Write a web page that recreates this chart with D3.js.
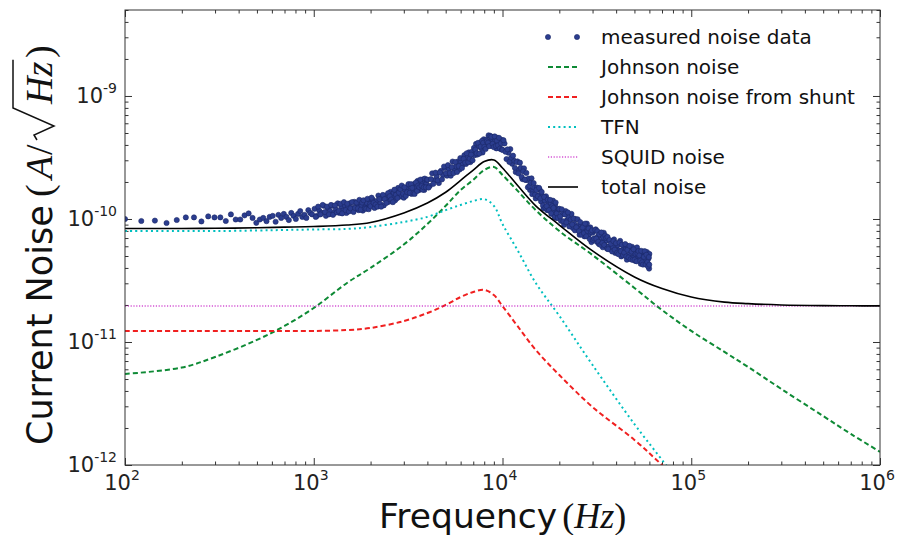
<!DOCTYPE html>
<html>
<head>
<meta charset="utf-8">
<script src="https://cdn.jsdelivr.net/npm/d3@7"></script>
<style>
  body { margin: 0; background: #fff; }
  svg { display: block; font-family: "DejaVu Sans", sans-serif; }
</style>
</head>
<body>
<div id="chart"></div>
<script>
// model curves, sampled on one frequency grid (Hz -> A/sqrt(Hz))
const freqGrid = [100, 200, 300, 500, 700, 1000, 1500, 2000, 3000, 4000, 5000, 6000, 7000, 8000, 9000,
  10000, 12000, 15000, 20000, 30000, 50000, 70000, 100000, 150000, 200000, 300000, 500000, 700000, 1000000];

const johnsonNoise = [5.50e-12, 6.20e-12, 7.55e-12, 1.04e-11, 1.35e-11, 1.89e-11, 3.02e-11, 4.00e-11, 6.20e-11,
  9.10e-11, 1.28e-10, 1.72e-10, 2.08e-10, 2.50e-10, 2.65e-10, 2.28e-10, 1.70e-10, 1.18e-10, 7.98e-11, 5.09e-11,
  2.75e-11, 1.82e-11, 1.23e-11, 8.30e-12, 6.27e-12, 4.15e-12, 2.50e-12, 1.79e-12, 1.28e-12];

const shuntNoise = [1.23e-11, 1.23e-11, 1.23e-11, 1.23e-11, 1.23e-11, 1.23e-11, 1.25e-11, 1.30e-11, 1.48e-11,
  1.72e-11, 2.00e-11, 2.32e-11, 2.55e-11, 2.65e-11, 2.41e-11, 1.96e-11, 1.35e-11, 8.61e-12, 5.39e-12, 2.96e-12,
  1.60e-12, 1.0e-12, 6.0e-13, null, null, null, null, null, null];

const tfnNoise = [7.98e-11, 7.98e-11, 7.98e-11, 8.06e-11, 8.14e-11, 8.22e-11, 8.30e-11, 8.61e-11, 9.46e-11,
  1.04e-10, 1.18e-10, 1.30e-10, 1.40e-10, 1.45e-10, 1.28e-10, 9.10e-11, 5.60e-11, 3.02e-11, 1.63e-11, 6.50e-12,
  2.15e-12, 1.10e-12, 5.4e-13, null, null, null, null, null, null];

const squidFreq = [100, 1000000];
const squidNoise = [1.96e-11, 1.96e-11];

const totalNoise = [8.37e-11, 8.37e-11, 8.40e-11, 8.48e-11, 8.58e-11, 8.69e-11, 8.93e-11, 9.37e-11, 1.12e-10,
  1.35e-10, 1.65e-10, 2.06e-10, 2.50e-10, 2.93e-10, 3.02e-10, 2.60e-10, 1.88e-10, 1.28e-10, 8.93e-11, 5.50e-11,
  3.38e-11, 2.72e-11, 2.32e-11, 2.11e-11, 2.05e-11, 2.00e-11, 1.975e-11, 1.97e-11, 1.965e-11];

// measured points [frequency, noise]
const measured = [
  [100,1.00e-10],[122,9.63e-11],[144,9.70e-11],[166,9.28e-11],[188,9.81e-11],[210,1.03e-10],[232,1.03e-10],
  [254,9.55e-11],[276,1.05e-10],[298,1.03e-10],[320,1.03e-10],[342,9.63e-11],[364,1.09e-10],[386,9.90e-11],
  [408,9.90e-11],[430,1.07e-10],[452,1.11e-10],[474,1.02e-10],[496,9.30e-11],[518,9.90e-11],[540,1.02e-10],
  [562,9.60e-11],[584,1.04e-10],[606,1.06e-10],[628,9.50e-11],[650,1.08e-10],[672,1.02e-10],[694,1.10e-10],
  [716,1.04e-10],[738,9.80e-11],[760,1.12e-10],[782,1.06e-10],[804,1.00e-10],[826,1.10e-10],[848,1.16e-10],
  [870,1.04e-10],[892,1.08e-10],[914,1.02e-10],[936,1.18e-10],[958,1.12e-10],[980,1.09e-10],
  [1010,1.21e-10],[1040,1.06e-10],[1070,1.17e-10],[1100,1.12e-10],[1130,1.28e-10],[1160,1.06e-10],[1190,1.22e-10],
  [1220,1.16e-10],[1250,1.28e-10],[1280,1.12e-10],[1310,1.20e-10],[1340,1.34e-10],[1370,1.12e-10],[1400,1.26e-10],
  [1430,1.17e-10],[1460,1.29e-10],[1490,1.12e-10],[1520,1.26e-10],[1550,1.34e-10],[1580,1.18e-10],[1610,1.23e-10],
  [1640,1.38e-10],[1670,1.21e-10],[1700,1.31e-10],[1730,1.18e-10],[1760,1.35e-10],[1790,1.28e-10],[1820,1.17e-10],
  [1850,1.39e-10],[1880,1.27e-10],[1910,1.35e-10],[1940,1.24e-10],[1970,1.44e-10],
  [1025,1.04e-10],[1055,1.26e-10],[1085,1.09e-10],[1115,1.30e-10],[1145,1.14e-10],[1175,1.26e-10],[1205,1.09e-10],
  [1235,1.30e-10],[1265,1.08e-10],[1295,1.29e-10],[1325,1.13e-10],[1355,1.16e-10],[1385,1.33e-10],[1415,1.11e-10],
  [1445,1.37e-10],[1475,1.18e-10],[1505,1.33e-10],[1535,1.15e-10],[1565,1.22e-10],[1595,1.37e-10],[1625,1.14e-10],
  [1655,1.23e-10],[1685,1.36e-10],[1715,1.22e-10],[1745,1.43e-10],[1775,1.19e-10],[1805,1.36e-10],[1835,1.42e-10],
  [1865,1.22e-10],[1895,1.21e-10],[1925,1.46e-10],[1955,1.20e-10],[1985,1.32e-10],
  [2000,1.27e-10],[2050,1.44e-10],[2100,1.23e-10],[2150,1.40e-10],[2200,1.55e-10],[2250,1.33e-10],[2300,1.48e-10],
  [2350,1.29e-10],[2400,1.54e-10],[2450,1.47e-10],[2500,1.38e-10],[2550,1.66e-10],[2600,1.50e-10],[2650,1.63e-10],
  [2700,1.42e-10],[2750,1.64e-10],[2800,1.79e-10],[2850,1.56e-10],[2900,1.52e-10],[2950,1.78e-10],[3000,1.49e-10],
  [3050,1.72e-10],[3100,1.80e-10],[3150,1.62e-10],[3200,1.90e-10],[3250,1.71e-10],[3300,1.60e-10],[3350,1.84e-10],
  [3400,1.92e-10],[3450,1.73e-10],[3500,1.81e-10],[3550,2.04e-10],[3600,1.71e-10],[3650,1.97e-10],[3700,1.77e-10],
  [3750,1.93e-10],[3800,2.10e-10],[3850,1.72e-10],[3900,2.02e-10],[3950,1.93e-10],
  [2025,1.49e-10],[2075,1.35e-10],[2125,1.31e-10],[2175,1.26e-10],[2225,1.45e-10],[2275,1.26e-10],[2325,1.57e-10],
  [2375,1.45e-10],[2425,1.35e-10],[2475,1.62e-10],[2525,1.53e-10],[2575,1.44e-10],[2625,1.37e-10],[2675,1.73e-10],
  [2725,1.57e-10],[2775,1.48e-10],[2825,1.64e-10],[2875,1.75e-10],[2925,1.87e-10],[2975,1.60e-10],[3025,1.81e-10],
  [3075,1.54e-10],[3125,1.65e-10],[3175,1.92e-10],[3225,1.63e-10],[3275,1.92e-10],[3325,1.79e-10],[3375,1.62e-10],
  [3425,1.60e-10],[3475,1.98e-10],[3525,1.69e-10],[3575,1.87e-10],[3625,1.81e-10],[3675,2.09e-10],[3725,1.85e-10],
  [3775,1.73e-10],[3825,1.81e-10],[3875,2.13e-10],[3925,1.81e-10],[3975,2.08e-10],
  [4000,2.09e-10],[4120,1.86e-10],[4240,2.35e-10],[4360,2.06e-10],[4480,2.23e-10],[4600,1.96e-10],[4720,2.46e-10],
  [4840,2.28e-10],[4960,2.60e-10],[5080,2.25e-10],[5200,2.56e-10],[5320,2.25e-10],[5440,2.93e-10],[5560,2.48e-10],
  [5680,2.67e-10],[5800,2.93e-10],[5920,2.52e-10],[6040,2.93e-10],[6160,2.77e-10],[6280,3.30e-10],[6400,2.80e-10],
  [6520,3.15e-10],[6640,3.48e-10],[6760,2.90e-10],[6880,3.51e-10],[7000,3.34e-10],[7120,3.30e-10],[7240,4.08e-10],
  [7360,3.34e-10],[7480,3.90e-10],[7600,4.15e-10],[7720,3.76e-10],[7840,3.47e-10],[7960,4.45e-10],[8080,4.12e-10],
  [8200,4.42e-10],[8320,3.93e-10],[8440,4.79e-10],[8560,4.23e-10],[8680,3.94e-10],[8800,4.48e-10],[8920,4.65e-10],
  [9040,4.05e-10],[9160,4.33e-10],[9280,3.75e-10],[9400,4.56e-10],[9520,3.95e-10],[9640,4.30e-10],[9760,3.71e-10],
  [9880,4.40e-10],
  [4060,1.80e-10],[4180,2.11e-10],[4300,1.93e-10],[4420,2.38e-10],[4540,2.06e-10],[4660,2.39e-10],[4780,2.10e-10],
  [4900,2.67e-10],[5020,2.35e-10],[5140,2.74e-10],[5260,2.36e-10],[5380,2.64e-10],[5500,2.36e-10],[5620,2.90e-10],
  [5740,2.41e-10],[5860,2.69e-10],[5980,3.13e-10],[6100,2.60e-10],[6220,3.08e-10],[6340,2.87e-10],[6460,3.42e-10],
  [6580,2.90e-10],[6700,3.09e-10],[6820,3.34e-10],[6940,3.00e-10],[7060,3.78e-10],[7180,3.67e-10],[7300,3.43e-10],
  [7420,4.16e-10],[7540,3.40e-10],[7660,3.88e-10],[7780,4.32e-10],[7900,4.16e-10],[8020,3.86e-10],[8140,3.71e-10],
  [8260,4.28e-10],[8380,4.17e-10],[8500,3.91e-10],[8620,4.74e-10],[8740,4.66e-10],[8860,4.08e-10],[8980,3.84e-10],
  [9100,4.69e-10],[9220,3.92e-10],[9340,4.33e-10],[9460,3.97e-10],[9580,4.57e-10],[9700,3.74e-10],[9820,4.12e-10],
  [9940,3.68e-10],
  [10000,3.64e-10],[10250,4.11e-10],[10500,3.07e-10],[10750,3.46e-10],[11000,3.70e-10],[11250,2.81e-10],
  [11500,2.98e-10],[11750,2.41e-10],[12000,2.94e-10],[12250,2.52e-10],[12500,2.60e-10],[12750,2.11e-10],
  [13000,2.58e-10],[13250,2.08e-10],[13500,2.07e-10],[13750,2.13e-10],[14000,1.72e-10],[14250,2.14e-10],
  [14500,1.68e-10],[14750,1.80e-10],[15000,1.47e-10],[15250,1.80e-10],[15500,1.56e-10],[15750,1.73e-10],
  [16000,1.39e-10],[16250,1.54e-10],[16500,1.22e-10],[16750,1.41e-10],[17000,1.53e-10],[17250,1.18e-10],
  [17500,1.33e-10],[17750,1.21e-10],[18000,1.35e-10],[18250,1.10e-10],[18500,1.41e-10],[18750,1.13e-10],
  [19000,1.30e-10],[19250,1.02e-10],[19500,1.15e-10],[19750,1.20e-10],
  [10125,4.37e-10],[10375,3.52e-10],[10625,3.68e-10],[10875,2.91e-10],[11125,3.16e-10],[11375,3.27e-10],
  [11625,2.61e-10],[11875,2.90e-10],[12125,2.35e-10],[12375,2.87e-10],[12625,2.20e-10],[12875,2.44e-10],
  [13125,2.09e-10],[13375,2.37e-10],[13625,1.81e-10],[13875,1.86e-10],[14125,1.97e-10],[14375,1.59e-10],
  [14625,1.96e-10],[14875,1.58e-10],[15125,1.72e-10],[15375,1.53e-10],[15625,1.79e-10],[15875,1.47e-10],
  [16125,1.66e-10],[16375,1.29e-10],[16625,1.51e-10],[16875,1.24e-10],[17125,1.27e-10],[17375,1.44e-10],
  [17625,1.18e-10],[17875,1.43e-10],[18125,1.11e-10],[18375,1.27e-10],[18625,1.23e-10],[18875,1.04e-10],
  [19125,1.36e-10],[19375,1.11e-10],[19625,1.02e-10],[19875,1.20e-10],
  [20000,1.21e-10],[20400,9.66e-11],[20800,1.10e-10],[21200,8.97e-11],[21600,1.16e-10],[22000,9.82e-11],
  [22400,1.04e-10],[22800,8.94e-11],[23200,1.10e-10],[23600,8.45e-11],[24000,9.12e-11],[24400,1.00e-10],
  [24800,8.32e-11],[25200,8.81e-11],[25600,7.45e-11],[26000,9.03e-11],[26400,7.97e-11],[26800,8.98e-11],
  [27200,7.22e-11],[27600,8.45e-11],[28000,9.17e-11],[28400,7.24e-11],[28800,7.56e-11],[29200,8.54e-11],
  [29600,6.49e-11],[30000,7.74e-11],[30400,7.96e-11],[30800,6.91e-11],[31200,8.24e-11],[31600,6.52e-11],
  [32000,7.21e-11],[32400,6.26e-11],[32800,7.33e-11],[33200,6.60e-11],[33600,7.44e-11],[34000,5.89e-11],
  [34400,7.73e-11],[34800,6.58e-11],[35200,6.05e-11],[35600,6.70e-11],
  [20200,1.05e-10],[20600,1.20e-10],[21000,9.58e-11],[21400,1.09e-10],[21800,9.38e-11],[22200,1.13e-10],
  [22600,8.70e-11],[23000,9.91e-11],[23400,9.02e-11],[23800,1.01e-10],[24200,8.08e-11],[24600,8.55e-11],
  [25000,9.95e-11],[25400,7.96e-11],[25800,9.44e-11],[26200,7.45e-11],[26600,8.54e-11],[27000,7.68e-11],
  [27400,9.17e-11],[27800,7.23e-11],[28200,8.00e-11],[28600,8.37e-11],[29000,6.86e-11],[29400,7.88e-11],
  [29800,8.09e-11],[30200,6.76e-11],[30600,6.95e-11],[31000,8.14e-11],[31400,6.93e-11],[31800,7.97e-11],
  [32200,6.53e-11],[32600,7.51e-11],[33000,6.16e-11],[33400,7.77e-11],[33800,6.38e-11],[34200,7.08e-11],
  [34600,6.14e-11],[35000,7.33e-11],[35400,7.00e-11],[35800,5.74e-11],
  [36000,7.15e-11],[36600,5.95e-11],[37200,5.66e-11],[37800,6.61e-11],[38400,5.93e-11],[39000,6.82e-11],
  [39600,5.29e-11],[40200,5.98e-11],[40800,6.15e-11],[41400,5.55e-11],[42000,6.64e-11],[42600,4.96e-11],
  [43200,5.60e-11],[43800,6.09e-11],[44400,5.11e-11],[45000,5.67e-11],[45600,4.67e-11],[46200,6.01e-11],
  [46800,5.13e-11],[47400,5.59e-11],[48000,4.78e-11],[48600,5.94e-11],[49200,4.90e-11],[49800,5.24e-11],
  [50400,4.57e-11],[51000,5.48e-11],[51600,5.87e-11],[52200,4.92e-11],[52800,4.62e-11],[53400,5.44e-11],
  [54000,4.32e-11],[54600,5.09e-11],[55200,4.87e-11],[55800,5.42e-11],[56400,4.38e-11],[57000,5.06e-11],
  [57600,4.58e-11],[58200,5.39e-11],[58800,4.36e-11],[59400,4.77e-11],[59800,3.95e-11],[60000,5.20e-11],
  [36300,5.68e-11],[36900,6.75e-11],[37500,6.29e-11],[38100,5.44e-11],[38700,6.60e-11],[39300,5.62e-11],
  [39900,6.36e-11],[40500,5.32e-11],[41100,5.18e-11],[41700,6.42e-11],[42300,5.47e-11],[42900,6.18e-11],
  [43500,5.08e-11],[44100,5.33e-11],[44700,6.26e-11],[45300,4.96e-11],[45900,5.61e-11],[46500,4.87e-11],
  [47100,6.05e-11],[47700,4.71e-11],[48300,5.43e-11],[48900,4.65e-11],[49500,5.67e-11],[50100,4.67e-11],
  [50700,5.20e-11],[51300,4.53e-11],[51900,5.23e-11],[52500,5.49e-11],[53100,5.06e-11],[53700,4.58e-11],
  [54300,5.51e-11],[54900,4.45e-11],[55500,4.26e-11],[56100,4.92e-11],[56700,5.47e-11],[57300,4.26e-11],
  [57900,5.12e-11],[58500,4.46e-11],[59100,4.11e-11],[59600,4.90e-11],[59900,4.25e-11]
];

const legendLabels = ["measured noise data", "Johnson noise", "Johnson noise from shunt", "TFN", "SQUID noise", "total noise"];
const xTickExps = [2, 3, 4, 5, 6];
const yTickExps = [-12, -11, -10, -9];

const width = 904;
const height = 535;
const plot = { left: 125, right: 880, top: 10, bottom: 465 };

const svg = d3.select("#chart").append("svg").attr("width", width).attr("height", height);

const x = d3.scaleLog().domain([1e2, 1e6]).range([plot.left, plot.right]);
const y = d3.scaleLog().domain([1e-12, 5e-9]).range([plot.bottom, plot.top]);

svg.append("clipPath").attr("id", "clip")
  .append("rect")
  .attr("x", plot.left).attr("y", plot.top)
  .attr("width", plot.right - plot.left).attr("height", plot.bottom - plot.top);

const isMajor = (v) => Math.abs(Math.log10(v) - Math.round(Math.log10(v))) < 1e-6;
const xMajor = x.ticks().filter(isMajor);
const xMinor = x.ticks().filter((v) => !isMajor(v));
const yMajor = y.ticks().filter(isMajor);
const yMinor = y.ticks().filter((v) => !isMajor(v));

// inward ticks on all four sides
const tickAxes = [
  [d3.axisBottom(x), xMajor, 7, `translate(0,${plot.bottom})`],
  [d3.axisBottom(x), xMinor, 3.5, `translate(0,${plot.bottom})`],
  [d3.axisTop(x), xMajor, 7, `translate(0,${plot.top})`],
  [d3.axisTop(x), xMinor, 3.5, `translate(0,${plot.top})`],
  [d3.axisLeft(y), yMajor, 7, `translate(${plot.left},0)`],
  [d3.axisLeft(y), yMinor, 3.5, `translate(${plot.left},0)`],
  [d3.axisRight(y), yMajor, 7, `translate(${plot.right},0)`],
  [d3.axisRight(y), yMinor, 3.5, `translate(${plot.right},0)`],
];
tickAxes.forEach(([axis, vals, size, tr]) => {
  const g = svg.append("g").attr("transform", tr)
    .call(axis.tickValues(vals).tickSize(-size).tickFormat(""));
  g.select(".domain").remove();
  g.selectAll("line").attr("stroke", "#333").attr("stroke-width", 1);
});

const content = svg.append("g").attr("clip-path", "url(#clip)");

// measured data
content.append("g")
  .selectAll("circle")
  .data(measured)
  .join("circle")
  .attr("cx", (d) => x(d[0]))
  .attr("cy", (d) => y(d[1]))
  .attr("r", 2.6)
  .attr("fill", "#2b3d8f")
  .attr("stroke", "#1b2868")
  .attr("stroke-width", 0.6);

const line = d3.line()
  .defined((d) => d[1] != null)
  .x((d) => x(d[0]))
  .y((d) => y(d[1]))
  .curve(d3.curveCatmullRom.alpha(0.5));

const styles = [
  { color: "#0e8a35", width: 2, dash: "5,3" },
  { color: "#f02020", width: 2, dash: "5,3" },
  { color: "#00bfbf", width: 2, dash: "2,3.2" },
  { color: "#bf00bf", width: 1.1, dash: "1.2,1.6" },
  { color: "#000000", width: 1.6, dash: null },
];

const curves = [
  freqGrid.map((f, i) => [f, johnsonNoise[i]]),
  freqGrid.map((f, i) => [f, shuntNoise[i]]),
  freqGrid.map((f, i) => [f, tfnNoise[i]]),
  squidFreq.map((f, i) => [f, squidNoise[i]]),
  freqGrid.map((f, i) => [f, totalNoise[i]]),
];

curves.forEach((pts, i) => {
  content.append("path")
    .datum(pts)
    .attr("fill", "none")
    .attr("stroke", styles[i].color)
    .attr("stroke-width", styles[i].width)
    .attr("stroke-dasharray", styles[i].dash)
    .attr("d", line);
});

// frame
svg.append("rect")
  .attr("x", plot.left).attr("y", plot.top)
  .attr("width", plot.right - plot.left).attr("height", plot.bottom - plot.top)
  .attr("fill", "none").attr("stroke", "#333").attr("stroke-width", 1);

// tick labels
xTickExps.forEach((e) => {
  const t = svg.append("text")
    .attr("x", x(Math.pow(10, e)) - 3)
    .attr("y", 490)
    .attr("text-anchor", "middle")
    .attr("fill", "#222");
  t.append("tspan").attr("font-size", 21).text("10");
  t.append("tspan").attr("font-size", 14).attr("dy", -10).text(e);
});

yTickExps.forEach((e) => {
  const t = svg.append("text")
    .attr("x", 117)
    .attr("y", y(Math.pow(10, e)) + 7)
    .attr("text-anchor", "end")
    .attr("fill", "#222");
  t.append("tspan").attr("font-size", 21).text("10");
  t.append("tspan").attr("font-size", 14).attr("dy", -10).text(e);
});

// axis titles
const mathFont = "'Liberation Serif', serif";
const xt = svg.append("text").attr("x", 379).attr("y", 528).attr("fill", "#111");
xt.append("tspan").attr("font-size", 34.5).text("Frequency");
xt.append("tspan").attr("dx", 5).attr("font-size", 36).attr("font-family", mathFont).text("(");
xt.append("tspan").attr("font-size", 36).attr("font-family", mathFont).attr("font-style", "italic").text("Hz");
xt.append("tspan").attr("font-size", 36).attr("font-family", mathFont).text(")");

const yl = svg.append("g").attr("transform", "translate(52,445) rotate(-90)");
const yt = yl.append("text").attr("x", 0).attr("y", 0).attr("fill", "#111");
yt.append("tspan").attr("font-size", 35).text("Current Noise");
yt.append("tspan").attr("x", 248).attr("font-size", 38).attr("font-family", mathFont).text("(");
yt.append("tspan").attr("x", 266).attr("font-size", 38).attr("font-family", mathFont).attr("font-style", "italic").text("A");
yt.append("tspan").attr("x", 290).attr("font-size", 38).attr("font-family", mathFont).text("/");
yt.append("tspan").attr("x", 341).attr("font-size", 38).attr("font-family", mathFont).attr("font-style", "italic").text("Hz");
yt.append("tspan").attr("x", 387).attr("font-size", 38).attr("font-family", mathFont).text(")");

// radical sign over Hz
const zBox = yt.node().getExtentOfChar(17);
yl.append("path")
  .attr("d", `M305,-15 L310,-18 L319,2 L337,-39 L${zBox.x + zBox.width + 2},-39`)
  .attr("fill", "none")
  .attr("stroke", "#111")
  .attr("stroke-width", 1.5)
  .attr("stroke-linejoin", "miter");

// legend
const legend = svg.append("g");
const legendY = (i) => 37 + i * 30;

legend.selectAll("circle")
  .data([548, 577])
  .join("circle")
  .attr("cx", (d) => d).attr("cy", legendY(0)).attr("r", 2.6)
  .attr("fill", "#2b3d8f").attr("stroke", "#1b2868").attr("stroke-width", 0.6);

styles.forEach((s, i) => {
  legend.append("line")
    .attr("x1", 548).attr("x2", 578)
    .attr("y1", legendY(i + 1)).attr("y2", legendY(i + 1))
    .attr("stroke", s.color)
    .attr("stroke-width", s.width)
    .attr("stroke-dasharray", s.dash);
});

legend.selectAll("text")
  .data(legendLabels)
  .join("text")
  .attr("x", 601)
  .attr("y", (d, i) => legendY(i))
  .attr("dy", "0.35em")
  .attr("font-size", 20)
  .attr("fill", "#111")
  .text((d) => d);
</script>
</body>
</html>
